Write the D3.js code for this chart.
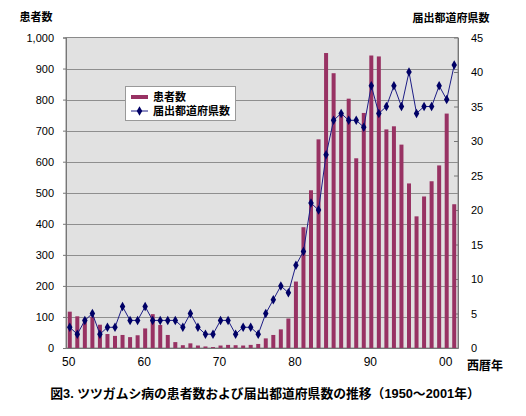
<!DOCTYPE html>
<html><head><meta charset="utf-8">
<script src="https://cdn.jsdelivr.net/npm/d3@7"></script>
<style>
body{margin:0;background:#fff;}
text{font-family:"Liberation Sans",Arial,"Noto Sans CJK JP",sans-serif;}
</style></head>
<body><svg id="c" width="526" height="416"></svg>
<script>
const years = [1950,1951,1952,1953,1954,1955,1956,1957,1958,1959,
  1960,1961,1962,1963,1964,1965,1966,1967,1968,1969,
  1970,1971,1972,1973,1974,1975,1976,1977,1978,1979,
  1980,1981,1982,1983,1984,1985,1986,1987,1988,1989,
  1990,1991,1992,1993,1994,1995,1996,1997,1998,1999,
  2000,2001];
const patients = [117,102,95,101,75,45,39,42,35,41,
  63,109,74,42,19,9,15,8,5,3,
  8,10,9,8,10,13,31,42,60,95,
  214,389,508,672,950,885,760,803,611,757,
  942,939,704,714,655,530,424,488,537,588,
  755,463];
const prefectures = [3,2,4,5,2,3,3,6,4,4,
  6,4,4,4,4,3,5,3,2,2,
  4,4,2,3,3,2,5,7,9,8,
  12,14,21,20,28,33,34,33,33,32,
  38,34,35,38,35,40,34,35,35,38,
  36,41];
const xTickYears = [1950,1960,1970,1980,1990,2000];
const xTickLabels = ["50","60","70","80","90","00"];
const leftTicks = [0,100,200,300,400,500,600,700,800,900,1000];
const rightTicks = [0,5,10,15,20,25,30,35,40,45];
const seriesNames = ["患者数","届出都道府県数"];
const title = "図3. ツツガムシ病の患者数および届出都道府県数の推移（1950〜2001年）";

const svg = d3.select("#c");
const L = 66, R = 458, T = 37.5, B = 348;
const barColor = "#983263", lineColor = "#1c1c85", markColor = "#000066";

const x = d3.scaleBand().domain(years).range([L, R]).paddingInner(0.47).paddingOuter(0.235);
const yL = d3.scaleLinear().domain([0, 1000]).range([B, T]);
const yR = d3.scaleLinear().domain([0, 45]).range([B, T]);

svg.append("rect").attr("x", L).attr("y", T).attr("width", R - L).attr("height", B - T)
  .attr("fill", "#e1e1e1").attr("stroke", "#8a8a8a").attr("stroke-width", 1);

svg.append("g").selectAll("line").data(leftTicks.slice(1, -1)).join("line")
  .attr("x1", L).attr("x2", R).attr("y1", d => Math.round(yL(d)) + 0.5).attr("y2", d => Math.round(yL(d)) + 0.5)
  .attr("stroke", "#8e8e8e").attr("stroke-width", 1);

const gL = svg.append("g").attr("transform", `translate(${L},0)`)
  .call(d3.axisLeft(yL).tickValues(leftTicks).tickSize(3).tickPadding(9).tickFormat(d3.format(",")));
gL.select(".domain").attr("stroke", "#777");
gL.selectAll(".tick line").attr("stroke", "#777");
gL.selectAll("text").attr("font-size", 11).attr("fill", "#000");

const gR = svg.append("g").attr("transform", `translate(${R},0)`)
  .call(d3.axisRight(yR).tickValues(rightTicks).tickSizeInner(-4).tickSizeOuter(0).tickPadding(13));
gR.select(".domain").attr("stroke", "#777");
gR.selectAll(".tick line").attr("stroke", "#777");
gR.selectAll("text").attr("font-size", 11).attr("fill", "#000");

const gX = svg.append("g").attr("transform", `translate(0,${B})`)
  .call(d3.axisBottom(x).tickValues(xTickYears).tickSize(0).tickPadding(9)
    .tickFormat((d) => xTickLabels[xTickYears.indexOf(d)]));
gX.select(".domain").attr("stroke", "#777");
gX.selectAll("text").attr("font-size", 12).attr("fill", "#000").attr("dx", -1);

svg.append("g").selectAll("rect").data(years).join("rect")
  .attr("x", d => x(d)).attr("width", x.bandwidth())
  .attr("y", (d, i) => yL(patients[i])).attr("height", (d, i) => B - yL(patients[i]))
  .attr("fill", barColor);

const line = d3.line().x((d, i) => x(years[i]) + x.bandwidth() / 2).y(d => yR(d));
svg.append("path").datum(prefectures).attr("d", line)
  .attr("fill", "none").attr("stroke", lineColor).attr("stroke-width", 1);
const diamond = d3.symbol().type(d3.symbolDiamond).size(26);
svg.append("g").selectAll("path").data(prefectures).join("path")
  .attr("transform", (d, i) => `translate(${x(years[i]) + x.bandwidth() / 2},${yR(d)})`)
  .attr("d", diamond).attr("fill", markColor);

svg.append("text").attr("x", 36).attr("y", 17).attr("text-anchor", "middle").attr("dominant-baseline", "central")
  .attr("font-size", 11).attr("font-weight", "bold").text(seriesNames[0]);
svg.append("text").attr("x", 451).attr("y", 18).attr("text-anchor", "middle").attr("dominant-baseline", "central")
  .attr("font-size", 11).attr("font-weight", "bold").text(seriesNames[1]);
svg.append("text").attr("x", 485).attr("y", 366).attr("text-anchor", "middle").attr("dominant-baseline", "central")
  .attr("font-size", 12).attr("font-weight", "bold").text("西暦年");

const lg = svg.append("g");
lg.append("rect").attr("x", 125.5).attr("y", 86.5).attr("width", 110).attr("height", 34)
  .attr("fill", "#fff").attr("stroke", "#999");
lg.append("rect").attr("x", 131).attr("y", 95).attr("width", 17).attr("height", 4).attr("fill", barColor);
lg.append("line").attr("x1", 131).attr("x2", 148).attr("y1", 111).attr("y2", 111).attr("stroke", lineColor);
lg.append("path").attr("transform", "translate(139.5,111)").attr("d", diamond).attr("fill", markColor);
lg.append("text").attr("x", 153).attr("y", 97).attr("dominant-baseline", "central")
  .attr("font-size", 11).attr("font-weight", "bold").text(seriesNames[0]);
lg.append("text").attr("x", 153).attr("y", 111).attr("dominant-baseline", "central")
  .attr("font-size", 11).attr("font-weight", "bold").text(seriesNames[1]);

svg.append("text").attr("x", 265).attr("y", 393).attr("text-anchor", "middle").attr("dominant-baseline", "central")
  .attr("font-size", 12.8).attr("font-weight", "bold").text(title);
</script></body></html>
